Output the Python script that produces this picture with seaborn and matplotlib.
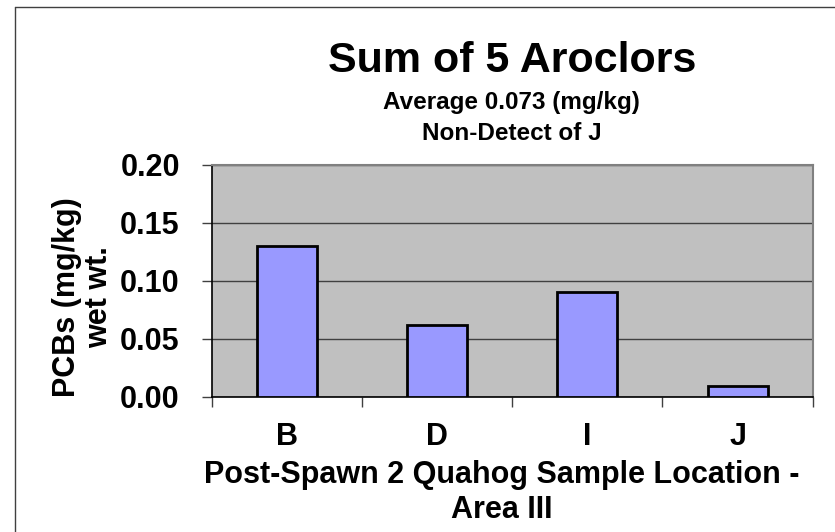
import matplotlib
matplotlib.use("Agg")
import matplotlib.pyplot as plt
import seaborn as sns
import pandas as pd
from matplotlib.lines import Line2D

# Data
locations = ["B", "D", "I", "J"]
pcb_values = [0.13, 0.062, 0.09, 0.009]
y_ticks = [0.00, 0.05, 0.10, 0.15, 0.20]

df = pd.DataFrame({"Location": locations, "PCBs": pcb_values})

sns.set_theme(style="white")
plt.rcParams["font.family"] = ["Liberation Sans", "DejaVu Sans"]
plt.rcParams["font.weight"] = "bold"
plt.rcParams["text.color"] = "black"
plt.rcParams["xtick.color"] = "black"
plt.rcParams["ytick.color"] = "black"
plt.rcParams["axes.labelcolor"] = "black"

W, H = 835, 532
fig = plt.figure(figsize=(W / 100, H / 100), dpi=100)
fig.patch.set_facecolor("white")

ax = fig.add_axes([211.7 / W, 1 - 396.7 / H, (812.7 - 211.7) / W, (396.7 - 164.7) / H])
ax.set_facecolor("#C0C0C0")

sns.barplot(data=df, x="Location", y="PCBs", ax=ax, color="#9999FF",
            width=0.4, edgecolor="black", linewidth=2.0, saturation=1, zorder=3)

ax.set_xlim(-0.5, len(locations) - 0.5)
ax.set_ylim(0, 0.20)
ax.set_yticks(y_ticks)
ax.set_yticklabels([f"{v:.2f}" for v in y_ticks], fontsize=22, fontweight="bold", color="black")
ax.yaxis.grid(True, color="#404040", linewidth=1.0, zorder=1)
ax.set_axisbelow(True)

# Category labels without ticks; tick marks at category boundaries
ax.set_xticks(range(len(locations)))
ax.set_xticklabels(locations, fontsize=22, fontweight="bold", color="black")
ax.tick_params(axis="x", which="major", length=0, pad=18)
ax.set_xticks([i - 0.5 for i in range(len(locations) + 1)], minor=True)
ax.tick_params(axis="x", which="minor", length=7, width=1, color="#404040", direction="out", bottom=True)
ax.tick_params(axis="y", length=7, width=1, color="#404040", direction="out", left=True, pad=16)

for side in ["left", "bottom"]:
    ax.spines[side].set_color("black")
    ax.spines[side].set_linewidth(1.2)
for side in ["top", "right"]:
    ax.spines[side].set_color("#808080")
    ax.spines[side].set_linewidth(1.5)

ax.set_xlabel("")
ax.set_ylabel("")

# Titles
fig.text(511.7 / W, 1 - 61 / H, "Sum of 5 Aroclors", ha="center", va="center",
         fontsize=31, fontweight="bold", color="black")
fig.text(511.7 / W, 1 - 103 / H, "Average 0.073 (mg/kg)", ha="center", va="center",
         fontsize=17.5, fontweight="bold", color="black")
fig.text(511.7 / W, 1 - 133 / H, "Non-Detect of J", ha="center", va="center",
         fontsize=17.5, fontweight="bold", color="black")

# Axis titles
fig.text(83 / W, 1 - 297 / H, "PCBs (mg/kg)\nwet wt.", ha="center", va="center",
         rotation=90, fontsize=22, fontweight="bold", linespacing=1.12, color="black")
fig.text(502 / W, 1 - 475 / H, "Post-Spawn 2 Quahog Sample Location -", ha="center",
         va="center", fontsize=22, fontweight="bold", color="black")
fig.text(502 / W, 1 - 510 / H, "Area III", ha="center", va="center",
         fontsize=22, fontweight="bold", color="black")

# Chart-area frame
fig.add_artist(Line2D([15 / W, 15 / W], [0, 1 - 7 / H], transform=fig.transFigure,
                      color="#404040", linewidth=1.0))
fig.add_artist(Line2D([15 / W, 1], [1 - 7 / H, 1 - 7 / H], transform=fig.transFigure,
                      color="#404040", linewidth=1.0))

fig.savefig("out.png", dpi=100)
